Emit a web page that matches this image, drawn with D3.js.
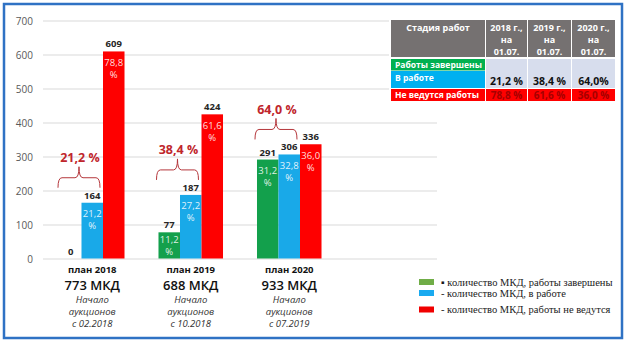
<!DOCTYPE html>
<html><head><meta charset="utf-8">
<script src="https://cdn.jsdelivr.net/npm/d3@7/dist/d3.min.js"></script>
<style>
html,body{margin:0;padding:0;background:#fff;}
svg{display:block;font-family:"Open Sans",sans-serif;}
</style></head>
<body><svg id="c" width="628" height="345"></svg>
<script>
// ---- data ----
const categories = ["план 2018", "план 2019", "план 2020"];
const plans = ["773 МКД", "688 МКД", "933 МКД"];
const auctionLines = ["Начало", "аукционов"];
const auctionStarts = ["с 02.2018", "с 10.2018", "с 07.2019"];
const seriesKeys = ["completed", "inProgress", "notStarted"];
const completed = [0, 77, 291];
const inProgress = [164, 187, 306];
const notStarted = [609, 424, 336];
const completedPct = ["", "11,2", "31,2"];
const inProgressPct = ["21,2", "27,2", "32,8"];
const notStartedPct = ["78,8", "61,6", "36,0"];
const groupPct = ["21,2 %", "38,4 %", "64,0 %"];
const yTicks = [0, 100, 200, 300, 400, 500, 600, 700];
const legendTexts = ["▪ количество МКД, работы завершены", "- количество МКД, в работе", "- количество МКД, работы не ведутся"];
const tableHeader = [["Стадия работ"], ["2018 г.,", "на", "01.07."], ["2019 г.,", "на", "01.07."], ["2020 г.,", "на", "01.07."]];
const tableRows = ["Работы завершены", "В работе", "Не ведутся работы"];
const tableActive = ["21,2 %", "38,4 %", "64,0%"];
const tableIdle = ["78,8 %", "61,6 %", "36,0 %"];

const values = {completed, inProgress, notStarted};
const pcts = {completed: completedPct, inProgress: inProgressPct, notStarted: notStartedPct};
const colors = {completed: "#13a04c", inProgress: "#19a9e8", notStarted: "#fe0000"};
const legendColors = ["#70ad47", "#19aaf0", "#f00000"];

const svg = d3.select("#c");

// frame
svg.append("rect").attr("x", 4).attr("y", 4).attr("width", 618).attr("height", 334)
  .attr("fill", "#fff").attr("stroke", "#2f72c4").attr("stroke-width", 2.5);

// scales
const x = d3.scaleBand().domain([...categories, "_table"]).range([43, 437])
  .paddingInner(0.345).paddingOuter(0.1725);
const xs = d3.scaleBand().domain(seriesKeys).range([0, x.bandwidth()]);
const y = d3.scaleLinear().domain([0, 700]).range([258.5, 20.5]);

// grid
svg.append("g").selectAll("line").data(yTicks).join("line")
  .attr("x1", 43).attr("x2", 437)
  .attr("y1", d => y(d) + 0.5).attr("y2", d => y(d) + 0.5)
  .attr("stroke", "#d9d9d9").attr("stroke-width", 1);

// y axis (labels only)
const yAxis = d3.axisLeft(y).tickValues(yTicks).tickSize(0).tickPadding(0);
const ga = svg.append("g").attr("transform", "translate(33,0)").call(yAxis);
ga.select(".domain").remove();
ga.selectAll("text").attr("font-family", "Open Sans").attr("font-size", 10).attr("fill", "#595959").attr("dy", "0.35em");

// bars
const groups = svg.append("g").selectAll("g").data(categories).join("g")
  .attr("transform", d => `translate(${x(d)},0)`);

groups.each(function(cat, i) {
  const g = d3.select(this);
  seriesKeys.forEach(k => {
    const v = values[k][i];
    const bx = xs(k), bw = xs.bandwidth();
    const top = y(v), h = y(0) - y(v);
    if (v > 0) {
      g.append("rect").attr("x", bx).attr("y", top).attr("width", bw).attr("height", h).attr("fill", colors[k]);
    }
    g.append("text").attr("x", bx + bw / 2).attr("y", top - 4)
      .attr("text-anchor", "middle").attr("font-size", 9.5).attr("font-weight", 700).attr("fill", "#262626")
      .text(v);
    const p = pcts[k][i];
    if (p) {
      let c1, c2;
      if (h >= 40) { c1 = top + 11; c2 = top + 23; } else { c1 = top + h / 2 - 6; c2 = top + h / 2 + 6; }
      [[p, c1], ["%", c2]].forEach(([t, cy]) => {
        g.append("text").attr("x", bx + bw / 2).attr("y", cy).attr("dy", "0.35em")
          .attr("text-anchor", "middle").attr("font-size", 9.5).attr("fill", "#fff").attr("fill-opacity", 0.88)
          .text(t);
      });
    }
  });

  // brace + group percentage
  const cx = 19, half = 21;
  const tip = y(Math.max(completed[i], inProgress[i])) - 15;
  const mid = tip - 10, stemTop = tip - 21, r = 4;
  const path = `M${cx - half},${tip} Q${cx - half},${mid} ${cx - half + r},${mid} L${cx - r},${mid} Q${cx},${mid} ${cx},${stemTop} Q${cx},${mid} ${cx + r},${mid} L${cx + half - r},${mid} Q${cx + half},${mid} ${cx + half},${tip}`;
  g.append("path").attr("d", path).attr("fill", "none").attr("stroke", "#b5373c").attr("stroke-width", 1);
  g.append("text").attr("x", cx + 1).attr("y", tip - 30).attr("dy", "0.35em")
    .attr("text-anchor", "middle").attr("font-size", 12.5).attr("font-weight", 700).attr("fill", "#c0262c")
    .text(groupPct[i]);
});

// category labels
const cl = svg.append("g").selectAll("g").data(categories).join("g")
  .attr("transform", d => `translate(${x(d) + x.bandwidth() / 2},0)`);
cl.append("text").attr("y", 272.5).attr("text-anchor", "middle").attr("font-size", 9.5).attr("font-weight", 700).attr("fill", "#111").text(d => d);
cl.append("text").attr("y", 289.5).attr("text-anchor", "middle").attr("font-size", 13).attr("font-weight", 600).attr("fill", "#111").text((d, i) => plans[i]);
cl.each(function(d, i) {
  const g = d3.select(this);
  [...auctionLines, auctionStarts[i]].forEach((t, j) => {
    g.append("text").attr("y", 303 + j * 12).attr("text-anchor", "middle").attr("font-size", 9.5)
      .attr("font-style", "italic").attr("fill", "#333").text(t);
  });
});

// table
const colX = [391, 486, 528, 572], colW = [94, 41, 43, 43];
const tg = svg.append("g");
tg.append("rect").attr("x", 389).attr("y", 18).attr("width", 228).attr("height", 85).attr("fill", "#fff");
tableHeader.forEach((lines, c) => {
  tg.append("rect").attr("x", colX[c]).attr("y", 20).attr("width", colW[c]).attr("height", 37).attr("fill", "#757171");
  lines.forEach((t, j) => {
    tg.append("text").attr("x", colX[c] + colW[c] / 2).attr("y", 31 + j * 12).attr("text-anchor", "middle")
      .attr("font-size", 9).attr("font-weight", 700).attr("fill", "#fff").text(t);
  });
});
const rowY = [59, 71, 89], rowH = [11.5, 17, 12];
const rowFill = ["#00b050", "#00b0f0", "#ff0000"];
const rowBase = [68, 80.5, 98];
tableRows.forEach((t, r) => {
  tg.append("rect").attr("x", colX[0]).attr("y", rowY[r]).attr("width", colW[0]).attr("height", rowH[r]).attr("fill", rowFill[r]);
  tg.append("text").attr("x", colX[0] + 4).attr("y", rowBase[r]).attr("font-size", 8.5).attr("font-weight", 700).attr("fill", "#fff").text(t);
});
tableActive.forEach((t, c) => {
  tg.append("rect").attr("x", colX[c + 1]).attr("y", 59).attr("width", colW[c + 1]).attr("height", 29).attr("fill", "#d7dded");
  tg.append("text").attr("x", colX[c + 1] + colW[c + 1] / 2).attr("y", 85).attr("text-anchor", "middle")
    .attr("font-size", 10.5).attr("font-weight", 700).attr("fill", "#111").text(t);
});
tableIdle.forEach((t, c) => {
  tg.append("rect").attr("x", colX[c + 1]).attr("y", 89).attr("width", colW[c + 1]).attr("height", 12).attr("fill", "#ff0000");
  tg.append("text").attr("x", colX[c + 1] + colW[c + 1] / 2).attr("y", 99).attr("text-anchor", "middle")
    .attr("font-size", 10).attr("font-weight", 700).attr("fill", "#a50000").text(t);
});

// legend
const lgY = [282, 293, 309.5];
legendTexts.forEach((t, i) => {
  svg.append("rect").attr("x", 419).attr("y", lgY[i] - 3).attr("width", 15).attr("height", 6).attr("fill", legendColors[i]);
  svg.append("text").attr("x", 441).attr("y", lgY[i]).attr("dy", "0.35em")
    .attr("font-family", "Liberation Serif").attr("font-size", 10.5).attr("fill", "#1a1a1a").text(t);
});
</script></body></html>
